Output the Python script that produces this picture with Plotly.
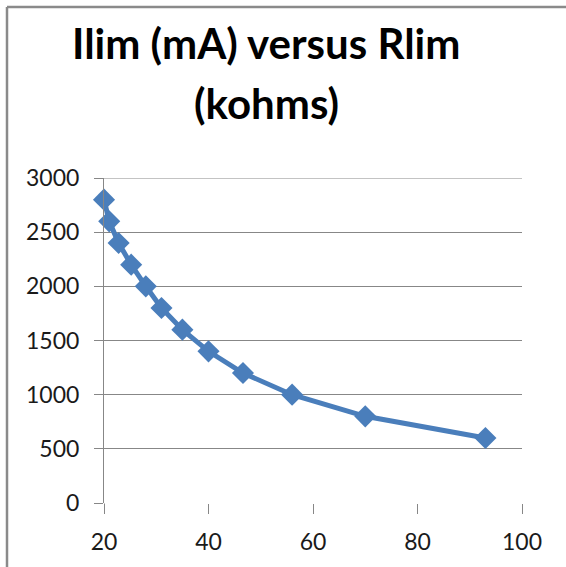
import plotly.graph_objects as go

# Data
rlim_kohms = [20, 21, 22.8, 25.2, 28, 31, 35, 40, 46.6, 56, 70, 93]
ilim_ma = [2800, 2600, 2400, 2200, 2000, 1800, 1600, 1400, 1200, 1000, 800, 600]
title_lines = ["Ilim (mA) versus Rlim", "(kohms)"]
x_ticks = [20, 40, 60, 80, 100]
y_ticks = [0, 500, 1000, 1500, 2000, 2500, 3000]

W, H = 566, 567
# plot area in page pixels: left 104, right 522, top 178, bottom 503
L, T = 104, 178
R = W - 522
B = H - 503
pw, ph = W - L - R, H - T - B

def px_x(p):
    return (p - L) / pw

def px_y(p):
    return (H - B - p) / ph

fig = go.Figure()
fig.add_trace(go.Scatter(
    x=rlim_kohms, y=ilim_ma, mode="lines+markers",
    line=dict(color="#4A7EBB", width=5),
    marker=dict(symbol="diamond", size=17, color="#4A7EBB"),
    showlegend=False, hoverinfo="x+y", cliponaxis=False,
))

grid = "#878787"
border = "#8a8a8a"
fig.update_layout(
    width=W, height=H,
    margin=dict(l=L, r=R, t=T, b=B, autoexpand=False),
    paper_bgcolor="white", plot_bgcolor="white",
    font=dict(family="Lato", size=23, color="#1a1a1a"),
    xaxis=dict(range=[20, 100], tickvals=x_ticks, showgrid=False, zeroline=False,
               showline=False, ticks="outside", ticklen=10, tickcolor=grid, tickwidth=1,
               ticklabelstandoff=8, fixedrange=True, automargin=False),
    yaxis=dict(range=[0, 3000], tickvals=y_ticks, showgrid=True, gridcolor=grid, gridwidth=1,
               zeroline=False, showline=True, linecolor=grid, linewidth=1,
               ticks="outside", ticklen=9, tickcolor=grid, tickwidth=1,
               ticklabelstandoff=10, fixedrange=True, automargin=False),
    shapes=[
        # chart-area border (top and left edges visible in the crop)
        dict(type="line", xref="paper", yref="paper", x0=px_x(7), x1=px_x(620),
             y0=px_y(7), y1=px_y(7), line=dict(color=border, width=2.5)),
        dict(type="line", xref="paper", yref="paper", x0=px_x(7), x1=px_x(7),
             y0=px_y(7), y1=px_y(620), line=dict(color=border, width=2.5)),
        # top gridline at the axis maximum
        dict(type="line", xref="paper", yref="y", x0=0, x1=1, y0=y_ticks[-1], y1=y_ticks[-1],
             line=dict(color=grid, width=1), layer="below"),
        # y-axis line continues down to the x tick length
        dict(type="line", xref="x", yref="paper", x0=x_ticks[0], x1=x_ticks[0], y0=0, y1=px_y(513),
             line=dict(color=grid, width=1)),
    ],
    annotations=[
        dict(text=title_lines[0], xref="paper", yref="paper", x=px_x(266), y=px_y(43),
             xanchor="center", yanchor="middle", showarrow=False,
             font=dict(family="Lato", size=42, color="black", weight="bold")),
        dict(text=title_lines[1], xref="paper", yref="paper", x=px_x(266), y=px_y(103),
             xanchor="center", yanchor="middle", showarrow=False,
             font=dict(family="Lato", size=42, color="black", weight="bold")),
    ],
)

fig.write_html(
    "out.html",
    config={"displayModeBar": False},
    post_script="document.body.style.margin='0';document.body.style.overflow='hidden';",
)
